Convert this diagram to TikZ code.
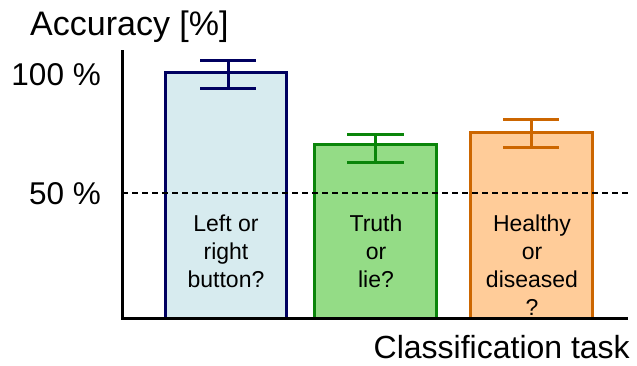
\documentclass[tikz,border=0pt]{standalone}
\usepackage{fontspec}
\setmainfont{Liberation Sans}
\definecolor{navyc}{HTML}{000060}
\definecolor{bluef}{HTML}{D7EBEF}
\definecolor{greenc}{HTML}{0A850A}
\definecolor{greenf}{HTML}{94DC86}
\definecolor{orangec}{HTML}{CC6600}
\definecolor{orangef}{HTML}{FFCC99}
\begin{document}
\begin{tikzpicture}[x=1pt,y=-1pt,
  axisline/.style={line width=3pt,black},
  chance/.style={line width=1.2pt,black,dash pattern=on 6pt off 4pt},
  bigtext/.style={font=\fontsize{31.5}{37}\selectfont,inner sep=0pt},
  bartext/.style={font=\fontsize{23}{28}\selectfont,inner sep=0pt,align=center,anchor=north},
  bar/.style={line width=3pt},
  errbar/.style={line width=3pt}]
\useasboundingbox (0,0) rectangle (637,365);
% bars
\draw[bar,draw=navyc,fill=bluef] (165,318) rectangle (286,72);
\draw[bar,draw=greenc,fill=greenf] (314,318) rectangle (436,144);
\draw[bar,draw=orangec,fill=orangef] (470,318) rectangle (592,132);
% error bars
\draw[errbar,navyc] (200,60) -- (256,60) (200,88) -- (256,88) (228,60) -- (228,88);
\draw[errbar,greenc] (347,134) -- (404,134) (347,162) -- (404,162) (375,134) -- (375,162);
\draw[errbar,orangec] (503,119) -- (559,119) (503,147) -- (559,147) (531,119) -- (531,147);
% chance line
\coordinate (c1) at (122,193);
\coordinate (c2) at (628,193);
\draw[chance] (c1) -- (c2);
% axes
\coordinate (o) at (122,318);
\coordinate (ytop) at (122,50);
\coordinate (xend) at (628,318);
\draw[axisline] (ytop) -- (o) -- (xend);
% labels
\node[bigtext,font=\fontsize{34}{40}\selectfont,anchor=base west] (ylab) at (30,35) {Accuracy [\%]};
\node[bigtext,anchor=base east] (t100) at (101,85) {100 \%};
\node[bigtext,anchor=base east] (t50) at (101,204) {50 \%};
\node[bigtext,font=\fontsize{32}{38}\selectfont,anchor=base east] (xlab) at (630,358) {Classification task};
\node[bartext] (b1) at (226,215) {Left or\\right\\button?};
\node[bartext] (b2) at (376,215) {Truth\\or\\lie?};
\node[bartext] (b3) at (532,215) {Healthy\\or\\diseased\\?};
\end{tikzpicture}
\end{document}
